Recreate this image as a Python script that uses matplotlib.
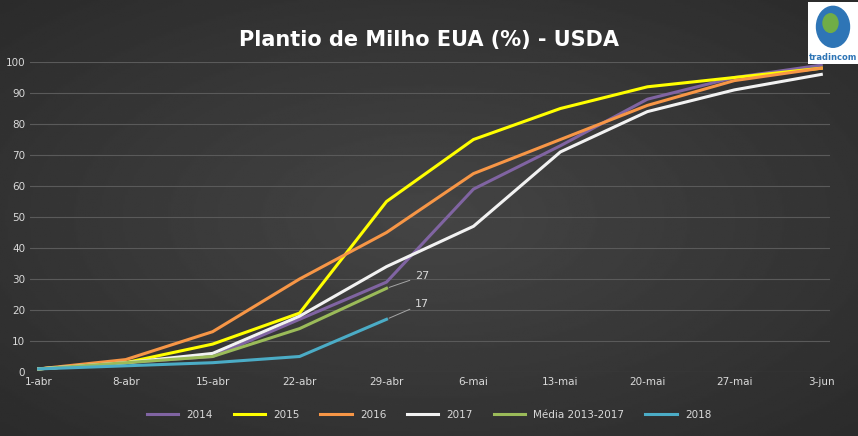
import matplotlib
matplotlib.use("Agg")
import matplotlib.pyplot as plt
import numpy as np

dates = ["1-abr", "8-abr", "15-abr", "22-abr", "29-abr", "6-mai", "13-mai", "20-mai", "27-mai", "3-jun"]
s2014 = [1, 3, 5, 17, 29, 59, 73, 88, 95, 99]
s2015 = [1, 3, 9, 19, 55, 75, 85, 92, 95, 98]
s2016 = [1, 4, 13, 30, 45, 64, 75, 86, 94, 98]
s2017 = [1, 3, 6, 18, 34, 47, 71, 84, 91, 96]
media = [1, 3, 5, 14, 27]
s2018 = [1, 2, 3, 5, 17]

series = [
    ("2014", s2014, "#8064A2"),
    ("2015", s2015, "#FFFF00"),
    ("2016", s2016, "#F79646"),
    ("2017", s2017, "#F2F2F2"),
    ("Média 2013-2017", media, "#9BBB59"),
    ("2018", s2018, "#4BACC6"),
]

fig = plt.figure(figsize=(8.58, 4.36), dpi=100)
# radial gradient background
bg = fig.add_axes([0, 0, 1, 1])
yy, xx = np.mgrid[-1:1:200j, -1:1:400j]
r = np.sqrt(xx**2 + yy**2)
bg.imshow(0.27 - 0.1 * np.clip(r / 1.4, 0, 1), cmap="gray", vmin=0, vmax=1, aspect="auto")
bg.axis("off")

ax = fig.add_axes([30 / 858, 64 / 436, 800 / 858, 310 / 436])
ax.patch.set_alpha(0)
x = np.arange(len(dates))
for name, vals, col in series:
    ax.plot(x[: len(vals)], vals, color=col, lw=2.2, label=name)

ax.annotate("27", xy=(4, media[-1]), xytext=(4.33, 30), color="#D9D9D9", fontsize=8,
            arrowprops=dict(arrowstyle="-", color="#A6A6A6", lw=0.7))
ax.annotate("17", xy=(4, s2018[-1]), xytext=(4.33, 21), color="#D9D9D9", fontsize=8,
            arrowprops=dict(arrowstyle="-", color="#A6A6A6", lw=0.7))

ax.set_xlim(-0.1, 9.1)
ax.set_ylim(0, 100)
ax.set_yticks(range(0, 101, 10))
ax.set_xticks(x)
ax.set_xticklabels(dates)
ax.tick_params(colors="#D9D9D9", labelsize=7.5, length=0)
ax.grid(axis="y", color="#5A5A5A", lw=0.8)
for s in ax.spines.values():
    s.set_visible(False)

fig.text(0.5, 0.895, "Plantio de Milho EUA (%) - USDA", color="white", fontsize=15,
         fontweight="bold", ha="center")
fig.legend(loc="lower center", ncol=6, frameon=False, fontsize=7.5, labelcolor="#D9D9D9",
           bbox_to_anchor=(0.5, 0.015), handlelength=3)

# logo
lg = fig.add_axes([808 / 858, 1 - 64 / 436, 50 / 858, 62 / 436])
lg.set_facecolor("white")
lg.add_patch(plt.Circle((0.5, 0.6), 0.33, color="#2E75B6"))
lg.add_patch(plt.Circle((0.45, 0.66), 0.15, color="#70AD47"))
lg.text(0.5, 0.06, "tradincom", ha="center", fontsize=6, fontweight="bold", color="#2E75B6")
lg.set_xlim(0, 1); lg.set_ylim(0, 1)
lg.set_xticks([]); lg.set_yticks([])
for s in lg.spines.values():
    s.set_visible(False)

fig.savefig("out.png", dpi=100)
